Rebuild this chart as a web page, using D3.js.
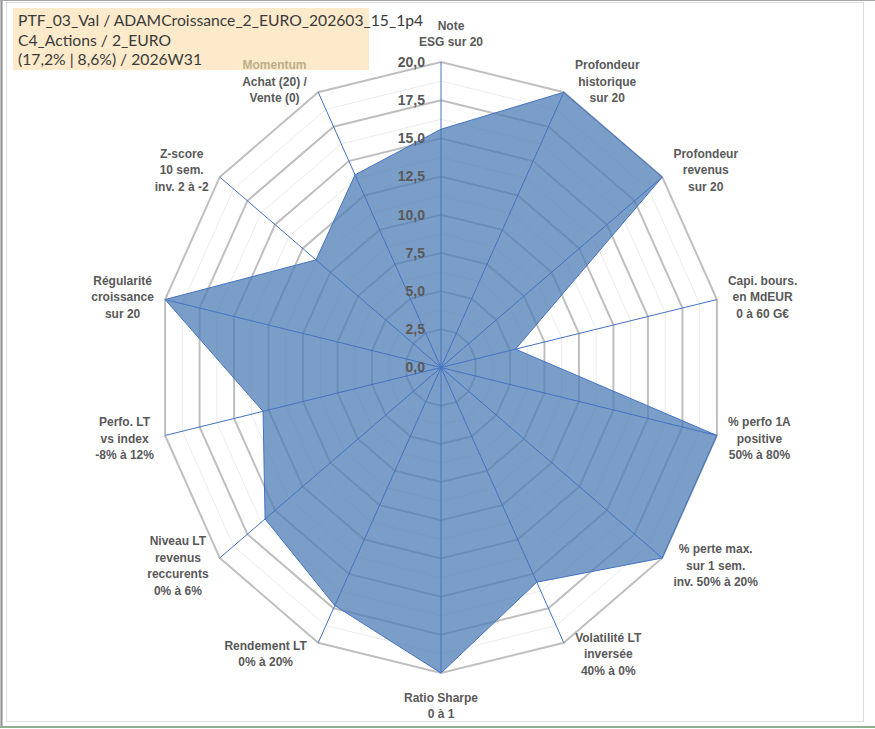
<!DOCTYPE html>
<html>
<head>
<meta charset="utf-8">
<script src="https://cdn.jsdelivr.net/npm/d3@7"></script>
<style>
  body { margin: 0; background: #fff; }
  svg { display: block; }
</style>
</head>
<body>
<script>
const svgW = 875;
const svgH = 729;

// données
const titleLines = [
  'PTF_03_Val / ADAMCroissance_2_EURO_202603_15_1p4',
  'C4_Actions / 2_EURO',
  '(17,2% | 8,6%) / 2026W31'
];
const axisLabels = [
  ['Note', 'ESG sur 20'],
  ['Profondeur', 'historique', 'sur 20'],
  ['Profondeur', 'revenus', 'sur 20'],
  ['Capi. bours.', 'en MdEUR', '0 à 60 G€'],
  ['% perfo 1A', 'positive', '50% à 80%'],
  ['% perte max.', 'sur 1 sem.', 'inv. 50% à 20%'],
  ['Volatilité LT', 'inversée', '40% à 0%'],
  ['Ratio Sharpe', '0 à 1'],
  ['Rendement LT', '0% à 20%'],
  ['Niveau LT', 'revenus', 'reccurents', '0% à 6%'],
  ['Perfo. LT', 'vs index', '-8% à 12%'],
  ['Régularité', 'croissance', 'sur 20'],
  ['Z-score', '10 sem.', 'inv. 2 à -2'],
  ['Momentum', 'Achat (20) /', 'Vente (0)']
];
const scores = [15.6, 20, 20, 5.4, 20, 20, 15.6, 20, 17.3, 15.9, 12.9, 20, 11.3, 14.0];
const tickValues = [0, 2.5, 5, 7.5, 10, 12.5, 15, 17.5, 20];
const minorTicks = [1.25, 3.75, 6.25, 8.75, 11.25, 13.75, 16.25, 18.75];

const cx = 441, cy = 367.5;
const fr = d3.formatLocale({decimal: ',', thousands: ' ', grouping: [3], currency: ['', '€']}).format('.1f');

const svg = d3.select('body')
              .append('svg')
              .attr('width', svgW)
              .attr('height', svgH);

// cadre
svg.append('rect').attr('x', 0).attr('y', 0).attr('width', svgW).attr('height', svgH).attr('fill', '#fff');
svg.append('line').attr('x1', 1.5).attr('y1', 0).attr('x2', 1.5).attr('y2', 727).attr('stroke', '#8c8c8c').attr('stroke-width', 2);
svg.append('line').attr('x1', 0).attr('y1', 0.5).attr('x2', svgW).attr('y2', 0.5).attr('stroke', '#a6a6a6');
svg.append('rect').attr('x', 6.5).attr('y', 2.5).attr('width', 857).attr('height', 719)
   .attr('fill', 'none').attr('stroke', '#dcdce6');
svg.append('line').attr('x1', 0).attr('y1', 727).attr('x2', svgW).attr('y2', 727).attr('stroke', '#8fb08f').attr('stroke-width', 2);

// titre (fond sous les libellés)
svg.append('rect')
   .attr('x', 13).attr('y', 8).attr('width', 356).attr('height', 62)
   .attr('fill', '#fdeacb');
svg.selectAll('.title')
   .data(titleLines)
   .enter()
   .append('text')
   .attr('class', 'title')
   .attr('x', 18)
   .attr('y', (d, i) => 26 + i * 19.5)
   .attr('font-family', 'Lato, sans-serif')
   .attr('font-size', 15.7)
   .attr('fill', '#3a3a3a')
   .text(d => d);

// échelles (le graphique est légèrement étiré verticalement)
const rX = d3.scaleLinear().domain([0, 20]).range([0, 283]);
const rY = d3.scaleLinear().domain([0, 20]).range([0, 305.5]);
const angle = d3.scaleLinear().domain([0, axisLabels.length]).range([0, 2 * Math.PI]);

const pt = (i, v) => [cx + rX(v) * Math.sin(angle(i)), cy - rY(v) * Math.cos(angle(i))];
const idx = d3.range(axisLabels.length);
const ring = v => d3.line()(idx.map(i => pt(i, v))) + 'Z';

const g = svg.append('g');

// grille secondaire
g.selectAll('.minor')
  .data(minorTicks)
  .enter()
  .append('path')
  .attr('class', 'minor')
  .attr('d', ring)
  .attr('fill', 'none')
  .attr('stroke', '#ececec')
  .attr('stroke-width', 1);

// grille principale
g.selectAll('.major')
  .data(tickValues.slice(1))
  .enter()
  .append('path')
  .attr('class', 'major')
  .attr('d', ring)
  .attr('fill', 'none')
  .attr('stroke', '#bfbfbf')
  .attr('stroke-width', 2);

// série
g.append('path')
  .attr('d', d3.line()(scores.map((v, i) => pt(i, v))) + 'Z')
  .attr('fill', '#4d7db5')
  .attr('fill-opacity', 0.75)
  .attr('stroke', '#4472c4')
  .attr('stroke-width', 1);

// axes
g.selectAll('.spoke')
  .data(idx)
  .enter()
  .append('line')
  .attr('class', 'spoke')
  .attr('x1', cx).attr('y1', cy)
  .attr('x2', i => pt(i, 20)[0])
  .attr('y2', i => pt(i, 20)[1])
  .attr('stroke', '#4472c4')
  .attr('stroke-width', 1);

// graduations
g.selectAll('.tick')
  .data(tickValues)
  .enter()
  .append('text')
  .attr('class', 'tick')
  .attr('x', cx - 16)
  .attr('y', d => cy - rY(d))
  .attr('dy', '0.35em')
  .attr('text-anchor', 'end')
  .attr('font-family', 'Liberation Sans, Arial, sans-serif')
  .attr('font-weight', 'bold')
  .attr('font-size', 14)
  .attr('fill', '#595959')
  .text(d => fr(d));

// libellés des axes
const lineH = 16.5;
const gapX = 11;
const labels = g.selectAll('.lab')
  .data(idx)
  .enter()
  .append('text')
  .attr('class', 'lab')
  .attr('text-anchor', 'middle')
  .attr('font-family', 'Liberation Sans, Arial, sans-serif')
  .attr('font-weight', 'bold')
  .attr('font-size', 12)
  .attr('fill', '#595959');

labels.each(function(i) {
  const t = d3.select(this);
  const lines = axisLabels[i];
  lines.forEach((s, k) => {
    t.append('tspan')
     .attr('x', 0)
     .attr('dy', k === 0 ? 0 : lineH)
     .attr('fill', (i === 13 && k === 0) ? '#bcae88' : null)
     .text(s);
  });
  const bb = this.getBBox();
  const w = bb.width, h = lines.length * lineH;
  const a = angle(i), s = Math.sin(a), c = Math.cos(a);
  const [vx, vy] = pt(i, 20);
  let mx, my;
  if (Math.abs(s) < 0.1) {
    mx = c > 0 ? vx + 10 : vx;
    my = c > 0 ? vy - (h / 2 + 12) : vy + (h / 2 + 16);
  } else {
    mx = vx + Math.sign(s) * (w / 2 + gapX);
    my = vy - c * 12;
  }
  const top = my - h / 2;
  t.attr('transform', `translate(${mx}, ${top + lineH / 2 + 4.5})`);
});
</script>
</body>
</html>
